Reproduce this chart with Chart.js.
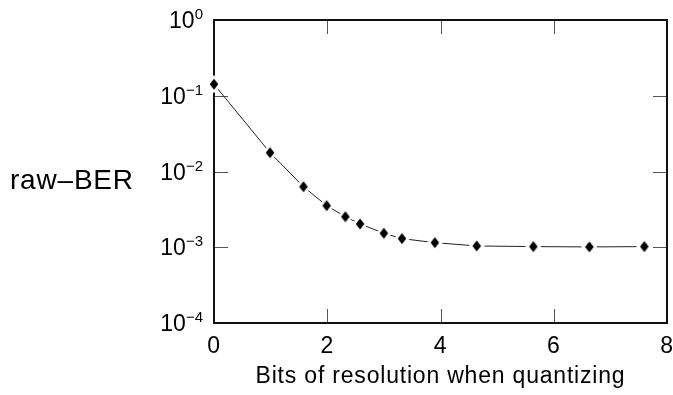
<!DOCTYPE html>
<html>
<head>
<meta charset="utf-8">
<script src="https://cdn.jsdelivr.net/npm/chart.js@4.4.1/dist/chart.umd.min.js"></script>
<style>
  html, body { margin: 0; padding: 0; background: #fff; }
  canvas { display: block; }
</style>
</head>
<body>
<canvas id="berChart" width="673" height="395"></canvas>
<script>
// bits of resolution and the measured raw bit error rate
const bits = [0, 0.99, 1.58, 1.99, 2.32, 2.58, 3.0, 3.32, 3.9, 4.64, 5.64, 6.63, 7.6];
const rawBer = [0.142, 0.0177, 0.0063, 0.00354, 0.00253, 0.00203, 0.00153, 0.0013, 0.00115, 0.00104, 0.00102, 0.00101, 0.00102];

const xTicks = [0, 2, 4, 6, 8];
const yTicks = [1, 1e-1, 1e-2, 1e-3, 1e-4];

const xTitle = "Bits of resolution when quantizing";
const yTitle = "raw\u2013BER";

const FONT = "'Liberation Sans', Arial, Helvetica, sans-serif";

// filled diamond with a white halo so the line stops short of each marker
function diamondMarker() {
    let c = document.createElement("canvas");
    c.width = 16;
    c.height = 18;
    let g = c.getContext("2d");
    g.fillStyle = "#fff";
    g.beginPath();
    g.moveTo(8, 0); g.lineTo(16, 9); g.lineTo(8, 18); g.lineTo(0, 9);
    g.closePath();
    g.fill();
    g.fillStyle = "#000";
    g.beginPath();
    g.moveTo(8, 3.5); g.lineTo(12.3, 9); g.lineTo(8, 14.5); g.lineTo(3.7, 9);
    g.closePath();
    g.fill();
    return c;
}

// box, inward ticks on all four sides, power-of-ten labels and the y title
const framePlugin = {
    id: "frame",
    beforeDraw(chart) {
        chart.ctx.letterSpacing = "0.8px";
    },
    beforeDatasetsDraw(chart) {
        let ctx = chart.ctx;
        let a = chart.chartArea;
        let xs = chart.scales.x, ys = chart.scales.y;
        ctx.save();
        ctx.strokeStyle = "#555";
        ctx.lineWidth = 1;
        ctx.beginPath();
        xTicks.slice(1, -1).forEach(v => {
            let px = Math.round(xs.getPixelForValue(v)) + 0.5;
            ctx.moveTo(px, a.bottom); ctx.lineTo(px, a.bottom - 14);
            ctx.moveTo(px, a.top); ctx.lineTo(px, a.top + 14);
        });
        yTicks.slice(1, -1).forEach(v => {
            let py = Math.round(ys.getPixelForValue(v)) + 0.5;
            ctx.moveTo(a.left, py); ctx.lineTo(a.left + 14, py);
            ctx.moveTo(a.right, py); ctx.lineTo(a.right - 14, py);
        });
        ctx.stroke();
        ctx.strokeStyle = "#111";
        ctx.lineWidth = 2;
        ctx.strokeRect(a.left, a.top, a.right - a.left, a.bottom - a.top);
        ctx.restore();
    },
    afterDraw(chart) {
        let ctx = chart.ctx;
        let ys = chart.scales.y;
        let labelRight = chart.chartArea.left - 11;
        ctx.save();
        ctx.fillStyle = "#000";
        ctx.letterSpacing = "0px";
        ctx.textBaseline = "alphabetic";
        ctx.textAlign = "right";
        yTicks.forEach(v => {
            let py = ys.getPixelForValue(v);
            let p = Math.round(Math.log10(v));
            let exp = p < 0 ? "\u2212" + (-p) : String(p);
            ctx.font = "15px " + FONT;
            ctx.fillText(exp, labelRight, py - 1);
            let w = ctx.measureText(exp).width;
            ctx.font = "23px " + FONT;
            ctx.fillText("10", labelRight - w, py + 8);
        });
        ctx.textAlign = "left";
        ctx.font = "28px " + FONT;
        ctx.letterSpacing = "0.8px";
        ctx.fillText(yTitle, 10, 188.5);
        ctx.restore();
        ctx.letterSpacing = "0px";
    }
};

new Chart(document.getElementById("berChart"), {
    type: "line",
    data: {
        datasets: [{
            data: bits.map((b, i) => ({ x: b, y: rawBer[i] })),
            borderColor: "#222",
            borderWidth: 1,
            tension: 0,
            pointStyle: diamondMarker(),
            pointRadius: 5,
            clip: false
        }]
    },
    options: {
        responsive: false,
        animation: false,
        devicePixelRatio: 1,
        layout: { padding: { left: 0, top: 20, right: 3, bottom: 0 } },
        plugins: {
            legend: { display: false },
            tooltip: { enabled: false }
        },
        scales: {
            x: {
                type: "linear",
                min: 0,
                max: 8,
                afterBuildTicks: s => { s.ticks = xTicks.map(v => ({ value: v })); },
                afterFit: s => {
                    s.height = 72;
                    s.paddingLeft = 0;
                    s.paddingRight = 0;
                },
                grid: { display: false, drawTicks: false },
                border: { display: false },
                ticks: {
                    color: "#000",
                    padding: 10,
                    maxRotation: 0,
                    font: { family: FONT, size: 23 }
                },
                title: {
                    display: true,
                    text: xTitle,
                    color: "#000",
                    padding: { top: 0, bottom: 5 },
                    font: { family: FONT, size: 23 }
                }
            },
            y: {
                type: "logarithmic",
                min: 1e-4,
                max: 1,
                afterBuildTicks: s => { s.ticks = yTicks.map(v => ({ value: v })); },
                afterFit: s => { s.width = 214; },
                grid: { display: false, drawTicks: false },
                border: { display: false },
                ticks: { display: false }
            }
        }
    },
    plugins: [framePlugin]
});
</script>
</body>
</html>
